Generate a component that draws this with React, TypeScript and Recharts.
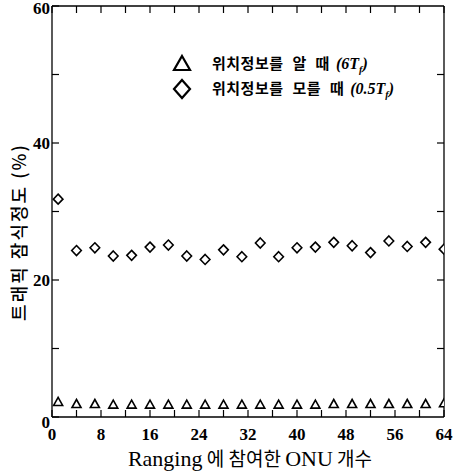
import React from 'react';
import { ScatterChart, Scatter, XAxis, YAxis, Legend, Customized } from 'recharts';

const onuCounts = [1, 4, 7, 10, 13, 16, 19, 22, 25, 28, 31, 34, 37, 40, 43, 46, 49, 52, 55, 58, 61, 64];
const knownValues = [2.2, 1.9, 1.9, 1.8, 1.8, 1.8, 1.8, 1.8, 1.8, 1.8, 1.8, 1.8, 1.8, 1.8, 1.8, 1.9, 1.9, 1.9, 1.9, 1.9, 1.9, 2.0];
const unknownValues = [31.8, 24.3, 24.7, 23.5, 23.6, 24.8, 25.1, 23.5, 23.0, 24.4, 23.4, 25.4, 23.4, 24.7, 24.8, 25.5, 25.0, 24.0, 25.7, 24.9, 25.5, 24.5];

const xTicks = [0, 4, 8, 12, 16, 20, 24, 28, 32, 36, 40, 44, 48, 52, 56, 60, 64];
const xLabelTicks = [0, 8, 16, 24, 32, 40, 48, 56, 64];
const yTicks = [0, 10, 20, 30, 40, 50, 60];
const yLabelTicks = [0, 20, 40, 60];
const rightTicks = [10, 20, 30, 40, 50];

const knownName = '위치정보를 알 때';
const unknownName = '위치정보를 모를 때';
const knownFactor = '6';
const unknownFactor = '0.5';
const legendOrder = [knownName, unknownName];

const knownData = onuCounts.map((x, i) => ({ x, y: knownValues[i] }));
const unknownData = onuCounts.map((x, i) => ({ x, y: unknownValues[i] }));

const KR = '"Noto Sans CJK KR", "Noto Sans", sans-serif';
const SERIF = '"Liberation Serif", "DejaVu Serif", serif';

const Triangle = (props: any) => {
  const { cx, cy } = props;
  if (cx == null || cy == null) return null;
  return (
    <polygon
      points={`${cx},${cy - 4.5} ${cx + 4.5},${cy + 3.5} ${cx - 4.5},${cy + 3.5}`}
      fill="#fff"
      stroke="#000"
      strokeWidth={1.6}
    />
  );
};

const Diamond = (props: any) => {
  const { cx, cy } = props;
  if (cx == null || cy == null) return null;
  return (
    <polygon
      points={`${cx},${cy - 5} ${cx + 4.8},${cy} ${cx},${cy + 5} ${cx - 4.8},${cy}`}
      fill="#fff"
      stroke="#000"
      strokeWidth={1.6}
    />
  );
};

const LegendContent = (props: any) => {
  const payload = [...(props.payload || [])].sort(
    (a: any, b: any) => legendOrder.indexOf(a.value) - legendOrder.indexOf(b.value)
  );
  return (
    <div style={{ display: 'flex', flexDirection: 'column' }}>
      {payload.map((entry: any, i: number) => {
        const isKnown = entry.value === knownName;
        return (
          <div key={i} style={{ display: 'flex', alignItems: 'center', height: 25 }}>
            <svg width={24} height={22} style={{ marginRight: 18 }}>
              {isKnown ? (
                <polygon points="12,3 20,17 4,17" fill="#fff" stroke="#000" strokeWidth={2.2} />
              ) : (
                <polygon points="12,2 20,11 12,20 4,11" fill="#fff" stroke="#000" strokeWidth={2.2} />
              )}
            </svg>
            <span
              style={{
                fontFamily: KR,
                fontSize: 15,
                fontWeight: 700,
                color: '#000',
                whiteSpace: 'pre',
                letterSpacing: 0.5,
                wordSpacing: 5,
              }}
            >
              {entry.value}
              <span style={{ fontFamily: SERIF, fontStyle: 'italic', fontWeight: 700, fontSize: 16, marginLeft: 6, letterSpacing: 0 }}>
                ({isKnown ? knownFactor : unknownFactor}T<sub style={{ fontSize: 10 }}>f</sub>)
              </span>
            </span>
          </div>
        );
      })}
    </div>
  );
};

const AxisTitles = () => (
  <g>
    <text
      x={18}
      y={232}
      transform="rotate(-90 18 232)"
      textAnchor="middle"
      dominantBaseline="central"
      fontFamily={KR}
      fontSize={18}
      fontWeight={500}
      letterSpacing={2}
      fill="#000"
    >
      트래픽 잠식정도 (%)
    </text>
    <text x={250} y={466} textAnchor="middle" fill="#000">
      <tspan fontFamily={SERIF} fontSize={22}>Ranging</tspan>
      <tspan fontFamily={KR} fontSize={19}> 에 참여한 </tspan>
      <tspan fontFamily={SERIF} fontSize={22}>ONU</tspan>
      <tspan fontFamily={KR} fontSize={19}> 개수</tspan>
    </text>
  </g>
);

const tickStyle = { fontFamily: SERIF, fontSize: 17, fontWeight: 700, fill: '#000' };

const LeftTick = (props: any) => {
  const { x, y, payload } = props;
  const v = payload?.value;
  if (!yLabelTicks.includes(v)) return null;
  const dy = v === 60 ? 2 : v === 0 ? 5 : 0;
  return (
    <text x={x} y={y + dy} textAnchor="end" dominantBaseline="central" {...tickStyle}>
      {String(v)}
    </text>
  );
};

export default function App() {
  return (
    <div style={{ position: 'absolute', left: 0, top: 0, width: 454, height: 474, background: '#fff' }}>
      <ScatterChart width={454} height={474} margin={{ top: 0, right: 0, bottom: 0, left: 0 }}>
        <XAxis
          xAxisId="bottom"
          dataKey="x"
          type="number"
          orientation="bottom"
          domain={[0, 64]}
          allowDataOverflow
          ticks={xTicks}
          interval={0}
          height={57}
          tickSize={-7}
          tickMargin={18}
          tickFormatter={(v: number) => (xLabelTicks.includes(v) ? String(v) : '')}
          tick={tickStyle}
          axisLine={{ stroke: '#000', strokeWidth: 1.3 }}
          tickLine={{ stroke: '#000', strokeWidth: 1.2 }}
        />
        <XAxis
          xAxisId="top"
          dataKey="x"
          type="number"
          orientation="top"
          domain={[0, 64]}
          allowDataOverflow
          ticks={xTicks}
          interval={0}
          height={6}
          tickSize={-7}
          tickFormatter={() => ''}
          axisLine={{ stroke: '#000', strokeWidth: 1.3 }}
          tickLine={{ stroke: '#000', strokeWidth: 1.2 }}
        />
        <YAxis
          yAxisId="left"
          dataKey="y"
          type="number"
          orientation="left"
          domain={[0, 60]}
          allowDataOverflow
          ticks={yTicks}
          interval={0}
          width={52}
          tickSize={-7}
          tickMargin={9}
          tick={LeftTick}
          axisLine={{ stroke: '#000', strokeWidth: 1.3 }}
          tickLine={{ stroke: '#000', strokeWidth: 1.2 }}
        />
        <YAxis
          yAxisId="right"
          dataKey="y"
          type="number"
          orientation="right"
          domain={[0, 60]}
          allowDataOverflow
          ticks={rightTicks}
          interval={0}
          width={10}
          tickSize={-7}
          tickFormatter={() => ''}
          axisLine={{ stroke: '#000', strokeWidth: 1.3 }}
          tickLine={{ stroke: '#000', strokeWidth: 1.2 }}
        />
        <Legend
          layout="vertical"
          align="center"
          verticalAlign="middle"
          content={LegendContent}
          wrapperStyle={{ position: 'absolute', top: 51, left: 170, width: 284 }}
        />
        <Scatter
          name={knownName}
          data={knownData}
          xAxisId="bottom"
          yAxisId="left"
          shape={Triangle}
          isAnimationActive={false}
        />
        <Scatter
          name={unknownName}
          data={unknownData}
          xAxisId="bottom"
          yAxisId="left"
          shape={Diamond}
          isAnimationActive={false}
        />
        <Customized component={AxisTitles} />
      </ScatterChart>
    </div>
  );
}
